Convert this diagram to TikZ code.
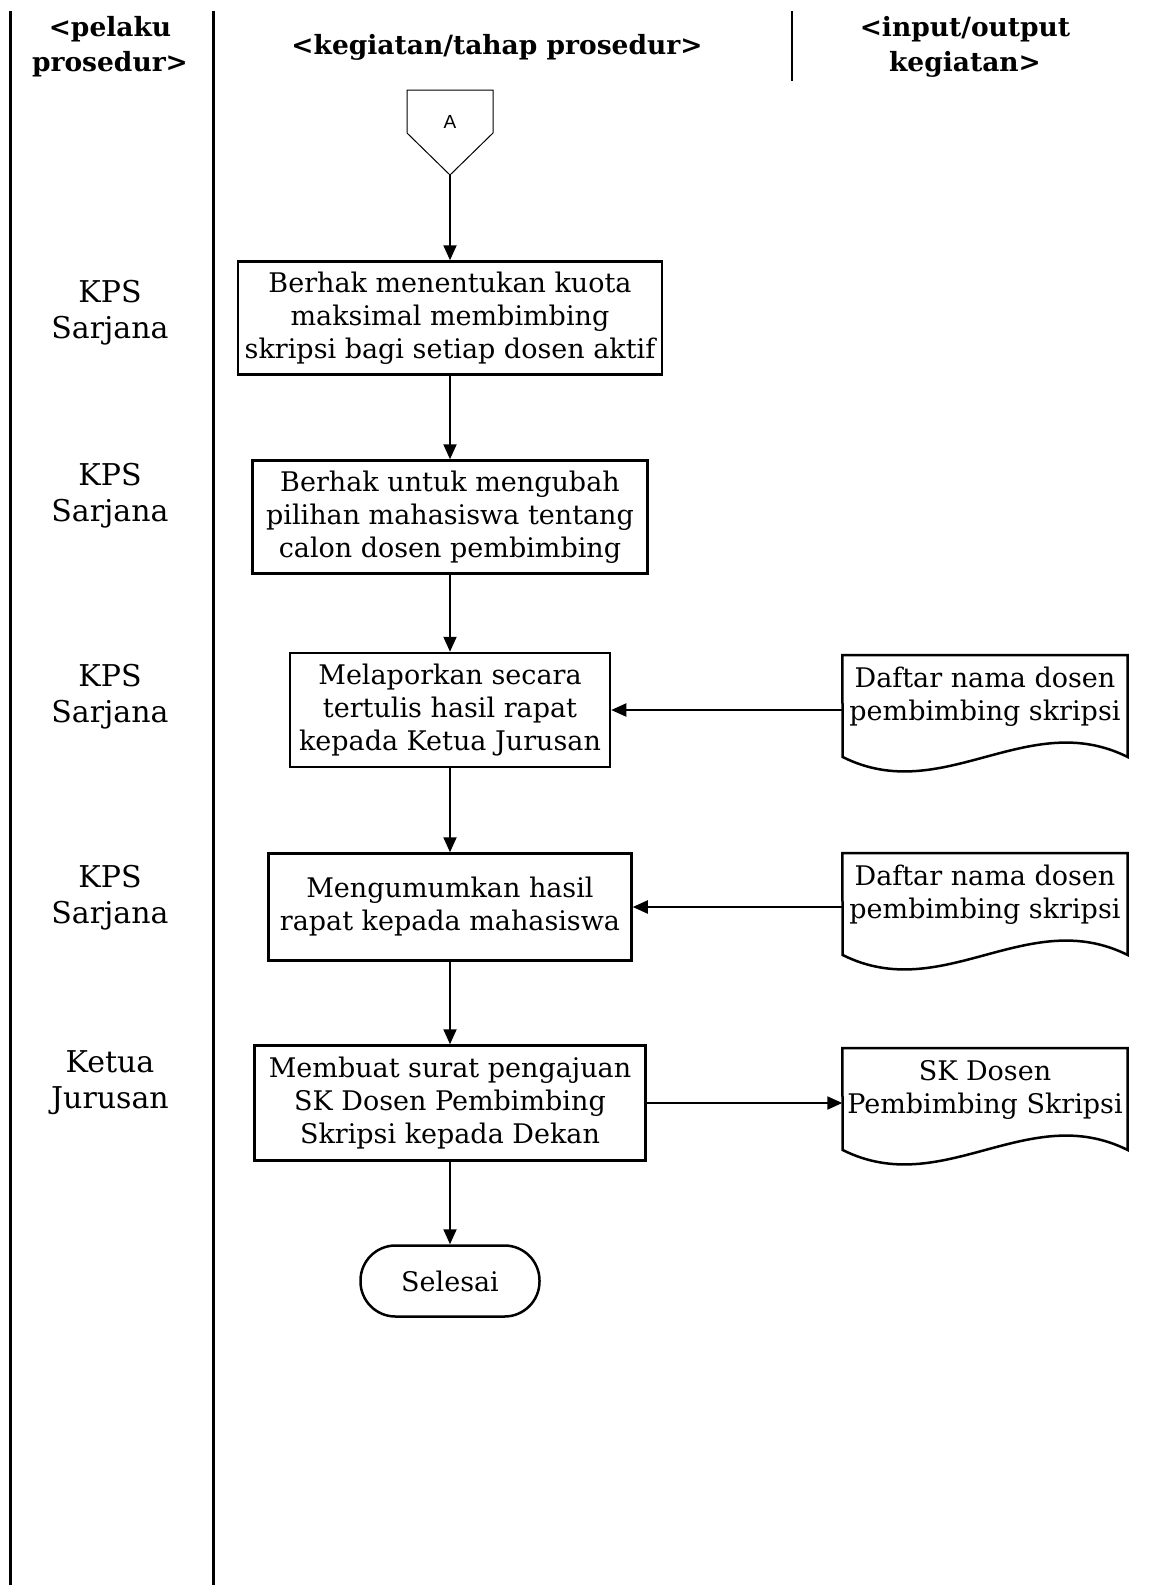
\documentclass[tikz,border=0pt]{standalone}
\usepackage{fontspec}
\setmainfont{DejaVu Serif}
\newfontfamily\hurufA{Liberation Sans}
\usetikzlibrary{arrows.meta}

\newcommand\dokumen[1]{%
  \draw[garis] (#1.north west) -- (#1.north east) -- ++(0,102)
    .. controls +(-100,-50) and +(100,50) .. ++(-285,0) -- cycle;}

\begin{document}
\begin{tikzpicture}[x=1pt,y=-1pt,
  every node/.style = {align=center, inner sep=0pt,
    font=\fontsize{27}{33}\selectfont},
  judul/.style  = {font=\fontsize{26.5}{35}\selectfont\bfseries},
  pelaku/.style = {font=\fontsize{30}{36}\selectfont},
  kotak/.style  = {draw, line width=2.5pt},
  dok/.style    = {anchor=north, minimum width=285pt, minimum height=84pt},
  garis/.style  = {line width=2.5pt},
  panah/.style  = {line width=2pt, -{Triangle[length=15pt,width=13pt]}}]

\useasboundingbox (0,0) rectangle (1154,1585);

% lajur
\draw[line width=3pt] (10,11) -- (10,1585);
\draw[line width=3pt] (213,11) -- (213,1585);
\draw[line width=2pt] (792,11) -- (792,81);

\node[judul] (hpelaku) at (110,47) {<pelaku\\prosedur>};
\node[judul] (hkegiatan) at (497,47) {<kegiatan/tahap prosedur>};
\node[judul] (hio) at (965,47) {<input/output\\kegiatan>};

% penghubung halaman
\node[font=\hurufA\fontsize{19}{22}\selectfont] (A) at (450,122) {A};
\draw[line width=1pt] (A) ++(-43,-32) -- ++(86,0) -- ++(0,43)
  -- ++(-43,42) coordinate (A-ujung) -- ++(-43,-42) -- cycle;

\node[kotak, minimum width=424pt, minimum height=113pt] (k1) at (450,318)
  {Berhak menentukan kuota\\maksimal membimbing\\skripsi bagi setiap dosen aktif};
\node[kotak, minimum width=395pt, minimum height=113pt] (k2) at (450,517)
  {Berhak untuk mengubah\\pilihan mahasiswa tentang\\calon dosen pembimbing};
\node[kotak, minimum width=320pt, minimum height=114pt] (k3) at (450,710)
  {Melaporkan secara\\tertulis hasil rapat\\kepada Ketua Jurusan};
\node[kotak, minimum width=363pt, minimum height=107pt] (k4) at (450,907)
  {Mengumumkan hasil\\rapat kepada mahasiswa};
\node[kotak, minimum width=391pt, minimum height=115pt] (k5) at (450,1103)
  {Membuat surat pengajuan\\SK Dosen Pembimbing\\Skripsi kepada Dekan};
\node[draw, line width=2.5pt, rounded corners=35pt, minimum width=179pt,
  minimum height=71pt] (selesai) at (450,1281) {Selesai};

\node[dok] (d1) at (985,655) {Daftar nama dosen\\pembimbing skripsi};
\node[dok] (d2) at (985,853) {Daftar nama dosen\\pembimbing skripsi};
\node[dok] (d3) at (985,1048) {SK Dosen\\Pembimbing Skripsi};
\dokumen{d1}
\dokumen{d2}
\dokumen{d3}

\node[pelaku] (p1) at (110,313) {KPS\\Sarjana};
\node[pelaku] (p2) at (110,496) {KPS\\Sarjana};
\node[pelaku] (p3) at (110,697) {KPS\\Sarjana};
\node[pelaku] (p4) at (110,898) {KPS\\Sarjana};
\node[pelaku] (p5) at (110,1083) {Ketua\\Jurusan};

\draw[panah] (A-ujung) -- (k1);
\draw[panah] (k1) -- (k2);
\draw[panah] (k2) -- (k3);
\draw[panah] (k3) -- (k4);
\draw[panah] (k4) -- (k5);
\draw[panah] (k5) -- (selesai);
\draw[panah] (k3.east -| d1.west) -- (k3.east);
\draw[panah] (k4.east -| d2.west) -- (k4.east);
\draw[panah] (k5.east) -- (k5.east -| d3.west);
\end{tikzpicture}
\end{document}
